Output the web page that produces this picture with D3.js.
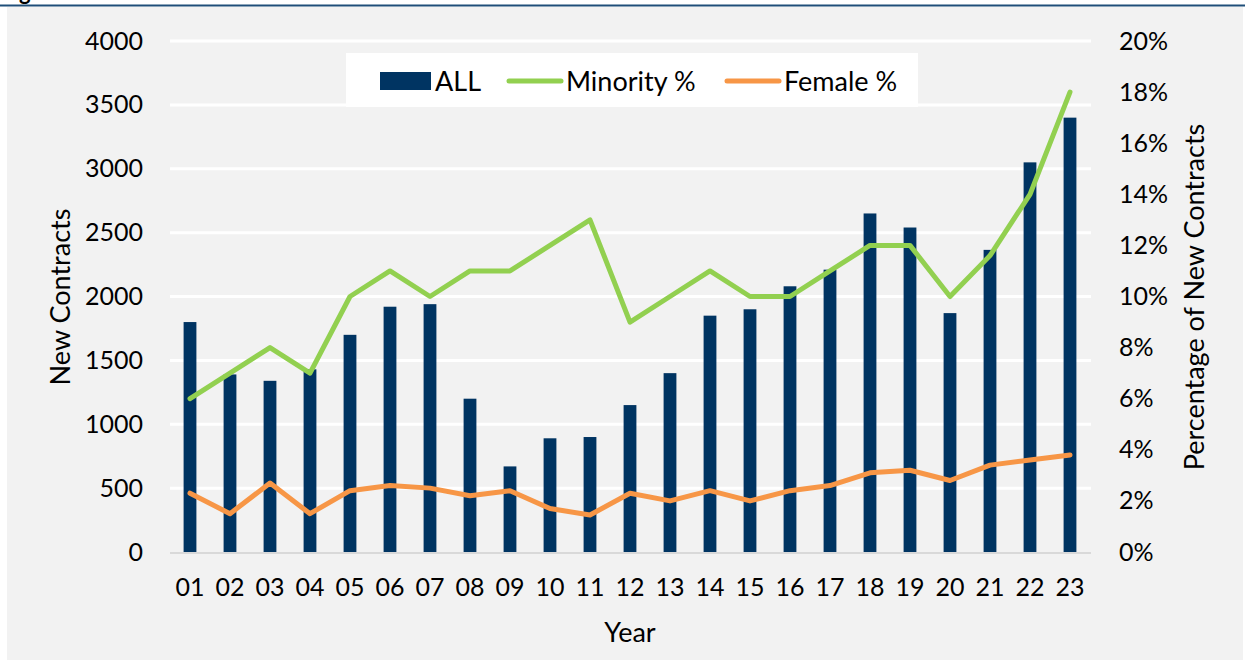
<!DOCTYPE html>
<html>
<head>
<meta charset="utf-8">
<script src="https://cdn.jsdelivr.net/npm/d3@7"></script>
<style>
  html, body { margin: 0; padding: 0; background: #ffffff; }
  svg { display: block; font-family: Lato, "Open Sans", sans-serif; }
</style>
</head>
<body>
<div id="chart"></div>
<script>
// chart data
const years = ["01","02","03","04","05","06","07","08","09","10","11","12",
               "13","14","15","16","17","18","19","20","21","22","23"];
const allContracts = [1800, 1390, 1340, 1430, 1700, 1920, 1940, 1200, 670, 890, 900, 1150,
                      1400, 1850, 1900, 2080, 2210, 2650, 2540, 1870, 2365, 3050, 3400];
const minorityPct = [6, 7, 8, 7, 10, 11, 10, 11, 11, 12, 13, 9,
                     10, 11, 10, 10, 11, 12, 12, 10, 11.6, 14, 18];
const femalePct = [2.3, 1.5, 2.7, 1.5, 2.4, 2.6, 2.5, 2.2, 2.4, 1.7, 1.45, 2.3,
                   2.0, 2.4, 2.0, 2.4, 2.6, 3.1, 3.2, 2.8, 3.4, 3.6, 3.8];
const leftTicks = [0, 500, 1000, 1500, 2000, 2500, 3000, 3500, 4000];
const rightTicks = [0, 2, 4, 6, 8, 10, 12, 14, 16, 18, 20];

const width = 1245, height = 660;
const navy = "#003462", green = "#92d050", orange = "#f79646";

const svg = d3.select("#chart").append("svg")
    .attr("width", width)
    .attr("height", height);

// page background + top rule
svg.append("rect").attr("x", 7).attr("y", 7).attr("width", width - 9).attr("height", height - 7)
    .attr("fill", "#f2f2f2");
svg.append("line").attr("x1", 0).attr("x2", width).attr("y1", 5.5).attr("y2", 5.5)
    .attr("stroke", "#1f4e79").attr("stroke-width", 2);
// heading above the figure, mostly cut off by the page edge
svg.append("text").attr("x", 19).attr("y", 0).attr("font-weight", "bold")
    .attr("font-size", 22).attr("fill", "#000").text("g");

const x = d3.scaleBand().domain(years).range([170, 1090]).paddingInner(0.68).paddingOuter(0.34);
const yLeft = d3.scaleLinear().domain([0, 4000]).range([552, 41]);
const yRight = d3.scaleLinear().domain([0, 20]).range([552, 41]);

// gridlines
svg.append("g")
    .selectAll("line")
    .data(leftTicks.filter(d => d > 0))
    .join("line")
    .attr("x1", 170).attr("x2", 1091)
    .attr("y1", d => yLeft(d)).attr("y2", d => yLeft(d))
    .attr("stroke", "#ffffff").attr("stroke-width", 3);

// bars
svg.append("g")
    .selectAll("rect")
    .data(allContracts)
    .join("rect")
    .attr("x", (d, i) => x(years[i]))
    .attr("y", d => yLeft(d))
    .attr("width", x.bandwidth())
    .attr("height", d => yLeft(0) - yLeft(d))
    .attr("fill", navy);

// baseline
svg.append("line").attr("x1", 170).attr("x2", 1091)
    .attr("y1", yLeft(0) + 1).attr("y2", yLeft(0) + 1)
    .attr("stroke", "#d9d9d9").attr("stroke-width", 2);

// lines
const cx = i => x(years[i]) + x.bandwidth() / 2;
const line = d3.line().x((d, i) => cx(i)).y(d => yRight(d));
svg.append("path").datum(minorityPct).attr("d", line)
    .attr("fill", "none").attr("stroke", green).attr("stroke-width", 5)
    .attr("stroke-linejoin", "round").attr("stroke-linecap", "round");
svg.append("path").datum(femalePct).attr("d", line)
    .attr("fill", "none").attr("stroke", orange).attr("stroke-width", 5)
    .attr("stroke-linejoin", "round").attr("stroke-linecap", "round");

// axes
const tickSize = 25, titleSize = 27;
const leftAxis = svg.append("g")
    .attr("transform", "translate(170,0)")
    .call(d3.axisLeft(yLeft).tickValues(leftTicks).tickSize(0).tickPadding(27)
        .tickFormat(d3.format("d")));
const rightAxis = svg.append("g")
    .attr("transform", "translate(1091,0)")
    .call(d3.axisRight(yRight).tickValues(rightTicks).tickSize(0).tickPadding(28)
        .tickFormat(d => d + "%"));
const bottomAxis = svg.append("g")
    .attr("transform", `translate(0,${yLeft(0)})`)
    .call(d3.axisBottom(x).tickSize(0).tickPadding(26));
[leftAxis, rightAxis, bottomAxis].forEach(a => {
    a.select(".domain").remove();
    a.selectAll("text").attr("font-size", tickSize).attr("fill", "#000")
        .attr("font-family", "Lato, 'Open Sans', sans-serif");
});

// axis titles
svg.append("text")
    .attr("transform", "translate(70,297) rotate(-90)")
    .attr("text-anchor", "middle").attr("font-size", titleSize).attr("fill", "#000")
    .text("New Contracts");
svg.append("text")
    .attr("transform", "translate(1204,297) rotate(-90)")
    .attr("text-anchor", "middle").attr("font-size", titleSize).attr("fill", "#000")
    .text("Percentage of New Contracts");
svg.append("text")
    .attr("x", 630).attr("y", 642)
    .attr("text-anchor", "middle").attr("font-size", titleSize).attr("fill", "#000")
    .text("Year");

// legend
const legend = svg.append("g");
legend.append("rect").attr("x", 346).attr("y", 53).attr("width", 572).attr("height", 54)
    .attr("fill", "#ffffff");
const legendItems = [
    {label: "ALL", color: navy, type: "bar", x0: 380, tx: 435},
    {label: "Minority %", color: green, type: "line", x0: 507, tx: 566},
    {label: "Female %", color: orange, type: "line", x0: 725, tx: 784}
];
legendItems.forEach(it => {
    if (it.type === "bar") {
        legend.append("rect").attr("x", it.x0).attr("y", 72).attr("width", 51).attr("height", 18)
            .attr("fill", it.color);
    } else {
        legend.append("line").attr("x1", it.x0 + 2).attr("x2", it.x0 + 54)
            .attr("y1", 81).attr("y2", 81)
            .attr("stroke", it.color).attr("stroke-width", 5).attr("stroke-linecap", "round");
    }
    legend.append("text").attr("x", it.tx).attr("y", 91)
        .attr("font-size", titleSize).attr("fill", "#000").text(it.label);
});
</script>
</body>
</html>
